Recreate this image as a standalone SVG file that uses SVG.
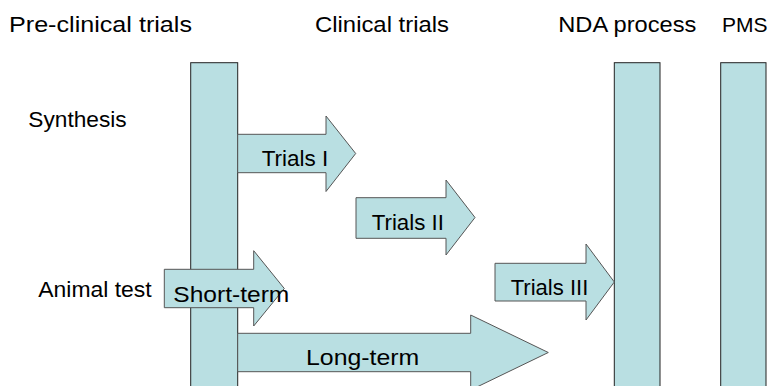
<svg xmlns="http://www.w3.org/2000/svg" width="771" height="386" viewBox="0 0 771 386">
<style>
.bar{fill:#b9dfe2;stroke:#222;stroke-width:1}
.arr{fill:#b9dfe2;stroke:#555;stroke-width:1;stroke-linejoin:miter}
text{font-family:"Liberation Sans",Arial,sans-serif;font-size:22.5px;fill:#000}
</style>
<rect width="771" height="386" fill="#fff"/>
<g id="headers">
<text x="9" y="32.3" textLength="183" lengthAdjust="spacingAndGlyphs">Pre-clinical trials</text>
<text x="315" y="32.3" textLength="134" lengthAdjust="spacingAndGlyphs">Clinical trials</text>
<text x="558.3" y="32.3" textLength="138" lengthAdjust="spacingAndGlyphs">NDA process</text>
<text x="722" y="32.3" style="font-size:21px">PMS</text>
</g>
<g id="label-synthesis"><text x="28.3" y="126.7" textLength="98.4" lengthAdjust="spacingAndGlyphs">Synthesis</text></g>
<g id="label-animal"><text x="38.3" y="296.7" textLength="113.4" lengthAdjust="spacingAndGlyphs">Animal test</text></g>
<g id="bar-preclinical"><rect class="bar" x="190.7" y="62.7" width="47" height="330"/></g>
<g id="bar-nda"><rect class="bar" x="614.3" y="62.7" width="45.7" height="330"/></g>
<g id="bar-pms"><rect class="bar" x="720.7" y="62.7" width="45.3" height="330"/></g>
<g id="connectors">
<g id="arrow-trials1">
<path class="arr" d="M237.7,134.3 H326 V116 L355.7,153.5 L326,191.5 V172.7 H237.7 Z"/>
<text x="261.7" y="166" textLength="66.6" lengthAdjust="spacingAndGlyphs">Trials I</text>
</g>
<g id="arrow-trials2">
<path class="arr" d="M356,197.7 H446 V180 L475,217.5 L446,255 V238.3 H356 Z"/>
<text x="371.7" y="230" textLength="72.3" lengthAdjust="spacingAndGlyphs">Trials II</text>
</g>
<g id="arrow-trials3">
<path class="arr" d="M495,263.3 H586 V244 L614.3,282 L586,320 V301 H495 Z"/>
<text x="510.7" y="295" textLength="77.6" lengthAdjust="spacingAndGlyphs">Trials III</text>
</g>
<g id="arrow-longterm">
<path class="arr" d="M237.7,333.3 H470.7 V315 L548.3,352.5 L470.7,390 V371.7 H237.7 Z"/>
<text x="306" y="365" textLength="113.3" lengthAdjust="spacingAndGlyphs">Long-term</text>
</g>
<g id="arrow-shortterm">
<path class="arr" d="M164.3,269.3 H253.7 V250.7 L284.3,288.5 L253.7,326 V307.7 H164.3 Z"/>
<text x="173.3" y="301.7" textLength="116" lengthAdjust="spacingAndGlyphs">Short-term</text>
</g>
</g>
</svg>
